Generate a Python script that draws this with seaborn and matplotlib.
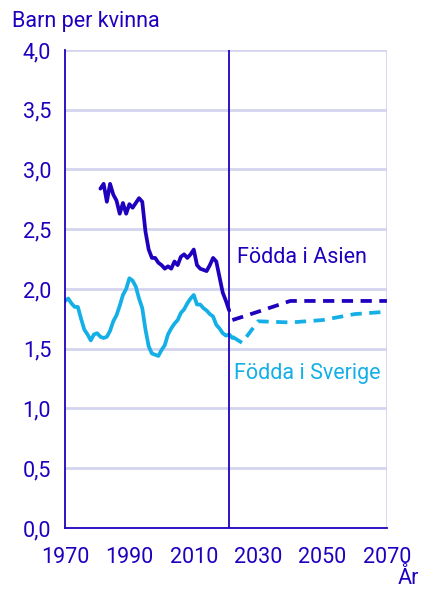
import pandas as pd
import numpy as np
import matplotlib
matplotlib.use("Agg")
import matplotlib.pyplot as plt
import seaborn as sns

# utfall, födda i Sverige 1970-2022
sverige_ar = list(range(1970, 2023))
sverige = [1.90, 1.92, 1.88, 1.85, 1.85, 1.75, 1.66, 1.62, 1.57, 1.62,
           1.63, 1.60, 1.59, 1.60, 1.65, 1.73, 1.78, 1.86, 1.95, 2.00,
           2.09, 2.07, 2.02, 1.92, 1.84, 1.66, 1.52, 1.46, 1.45, 1.44,
           1.49, 1.53, 1.62, 1.67, 1.71, 1.74, 1.80, 1.83, 1.88, 1.92,
           1.95, 1.87, 1.87, 1.84, 1.82, 1.79, 1.77, 1.70, 1.67, 1.63,
           1.61, 1.62, 1.59]

# utfall, födda i Asien 1981-2021
asien_ar = list(range(1981, 2022))
asien = [2.84, 2.88, 2.73, 2.88, 2.79, 2.74, 2.63, 2.72, 2.63, 2.71,
         2.68, 2.72, 2.76, 2.73, 2.48, 2.33, 2.26, 2.26, 2.22, 2.20,
         2.17, 2.19, 2.17, 2.23, 2.20, 2.27, 2.29, 2.26, 2.29, 2.33,
         2.20, 2.17, 2.16, 2.15, 2.20, 2.26, 2.23, 2.10, 1.97, 1.90,
         1.82]

# prognos
sverige_prog_ar = [2022, 2025, 2030, 2040, 2050, 2060, 2070]
sverige_prog = [1.60, 1.55, 1.73, 1.72, 1.74, 1.79, 1.81]
asien_prog_ar = [2022, 2030, 2040, 2050, 2060, 2070]
asien_prog = [1.74, 1.81, 1.90, 1.90, 1.90, 1.90]

xticks = [1970, 1990, 2010, 2030, 2050, 2070]
yticks = [0, 0.5, 1, 1.5, 2, 2.5, 3, 3.5, 4]

morkbla = "#1E00BE"
ljusbla = "#14AFE6"
grid = "#D4D4F0"
fs = 15.5

sns.set_style("white")
plt.rcParams['font.family'] = ['Roboto', 'DejaVu Sans']

fig = plt.figure(figsize=(4.21, 5.91), dpi=100)
ax = fig.add_axes([0.1544, 0.1066, 0.7646, 0.8088])

for y in yticks[1:]:
    ax.axhline(y, color=grid, lw=2, zorder=0)
ax.axvline(2070, color=grid, lw=2, zorder=0)

sns.lineplot(x=sverige_ar, y=sverige, color=ljusbla, lw=2.7, ax=ax)
sns.lineplot(x=asien_ar, y=asien, color=morkbla, lw=2.7, ax=ax)
sns.lineplot(x=sverige_prog_ar, y=sverige_prog, color=ljusbla, lw=2.7, ax=ax,
             linestyle=(0, (3, 2)))
sns.lineplot(x=asien_prog_ar, y=asien_prog, color=morkbla, lw=2.7, ax=ax,
             linestyle=(0, (3, 2)))

ax.axvline(2021, color=morkbla, lw=1.3)

ax.set_xlim(1970, 2070)
ax.set_ylim(0, 4)
ax.set_xticks(xticks)
ax.set_yticks(yticks)
ax.set_yticklabels([f"{v:.1f}".replace(".", ",") for v in yticks])
ax.tick_params(colors=morkbla, labelcolor=morkbla, labelsize=fs,
               length=6, width=1.3, direction="out")
ax.tick_params(axis="x", pad=8)
ax.tick_params(axis="y", pad=4)

for s in ["top", "right"]:
    ax.spines[s].set_visible(False)
for s in ["left", "bottom"]:
    ax.spines[s].set_color(morkbla)
    ax.spines[s].set_linewidth(1.3)

ax.text(2023.5, 2.26, "Födda i Asien", color=morkbla, fontsize=fs, va="center")
ax.text(2022.5, 1.29, "Födda i Sverige", color=ljusbla, fontsize=fs, va="center")

fig.text(12 / 421, 1 - 22 / 591, "Barn per kvinna", color=morkbla,
         fontsize=fs, va="center", ha="left")
fig.text(419 / 421, 1 - 578 / 591, "År", color=morkbla, fontsize=fs,
         va="center", ha="right")

fig.savefig("out.png", dpi=100)
